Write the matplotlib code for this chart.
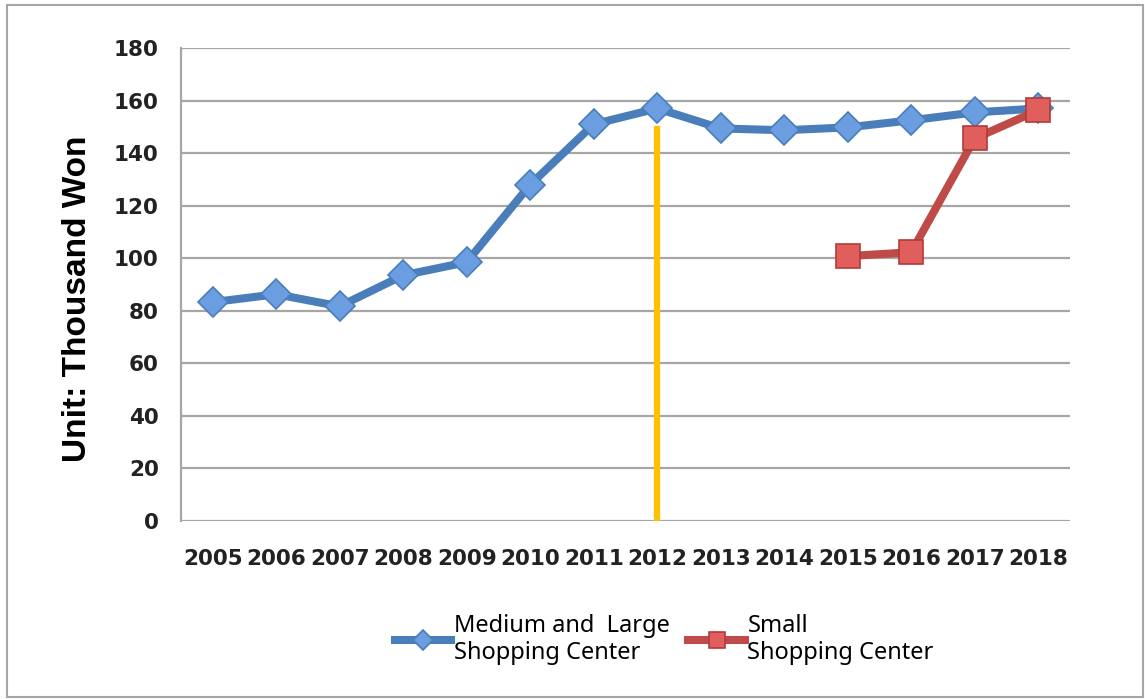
import matplotlib.pyplot as plt
from matplotlib.patches import Rectangle


# =========================
# DATA
# =========================

years = ["2005", "2006", "2007", "2008", "2009", "2010", "2011",
         "2012", "2013", "2014", "2015", "2016", "2017", "2018"]

medium_large = [83.3, 86.3, 81.7, 93.5, 98.5, 128, 151,
                157, 149.4, 148.7, 149.8, 152.5, 155.5, 157]

small_years = ["2015", "2016", "2017", "2018"]
small = [100.8, 102.3, 145.6, 156.3]

marker_year = "2012"
marker_top = 149

y_ticks = [0, 20, 40, 60, 80, 100, 120, 140, 160, 180]


# =========================
# FIGURE
# =========================

fig = plt.figure(figsize=(11.45, 6.99), dpi=100)

ax = fig.add_axes([0.158, 0.2546, 0.7765, 0.6767])

x_all = list(range(len(years)))
x_small = [years.index(y) for y in small_years]
x_mark = years.index(marker_year)

ax.plot(
    x_all, medium_large,
    color="#4a7ebb", linewidth=5.8,
    marker="D", markersize=15,
    markerfacecolor="#6a9ee0", markeredgecolor="#4a7ebb",
    markeredgewidth=1.2,
    label="Medium and  Large\nShopping Center",
    zorder=3
)

ax.plot(
    x_small, small,
    color="#be4b48", linewidth=5.8,
    marker="s", markersize=17,
    markerfacecolor="#e05f5c", markeredgecolor="#b03c39",
    markeredgewidth=1.2,
    label="Small\nShopping Center",
    zorder=4
)

ax.plot(
    [x_mark, x_mark], [0, marker_top],
    color="#ffc000", linewidth=4.5, zorder=2
)

ax.set_xlim(-0.5, len(years) - 0.5)
ax.set_ylim(0, 180)

ax.set_yticks(y_ticks)
ax.set_xticks(x_all)
ax.set_xticklabels(years)

ax.grid(axis="y", color="#a6a6a6", linewidth=1.6)
ax.set_axisbelow(True)

for side in ["top", "right", "bottom"]:
    ax.spines[side].set_visible(False)
ax.spines["left"].set_color("#a6a6a6")
ax.spines["left"].set_linewidth(1.6)

ax.tick_params(axis="x", length=0, pad=20)
ax.tick_params(axis="y", length=0, pad=16)

for lbl in ax.get_xticklabels() + ax.get_yticklabels():
    lbl.set_fontfamily("DejaVu Sans")
    lbl.set_fontweight("bold")
    lbl.set_fontsize(15.5)
    lbl.set_color("#222222")

ax.set_ylabel(
    "Unit: Thousand Won",
    fontfamily="Liberation Sans", fontweight="bold",
    fontsize=24
)
ax.yaxis.set_label_coords(-0.099, 0.47)


# =========================
# LEGEND
# =========================

fig.legend(
    loc="center", bbox_to_anchor=(0.58, 0.085),
    ncol=2, frameon=False,
    prop={"family": "Noto Sans", "size": 17},
    handlelength=2.4, handletextpad=0.1,
    columnspacing=0.8, markerscale=0.7,
    labelspacing=0.2
)


# =========================
# OUTER FRAME
# =========================

fig.patches.append(Rectangle(
    (7 / 1145, 2 / 699), 1136 / 1145, 692 / 699,
    transform=fig.transFigure, fill=False,
    edgecolor="#a6a6a6", linewidth=1.5
))

fig.savefig("out.png", dpi=100)
